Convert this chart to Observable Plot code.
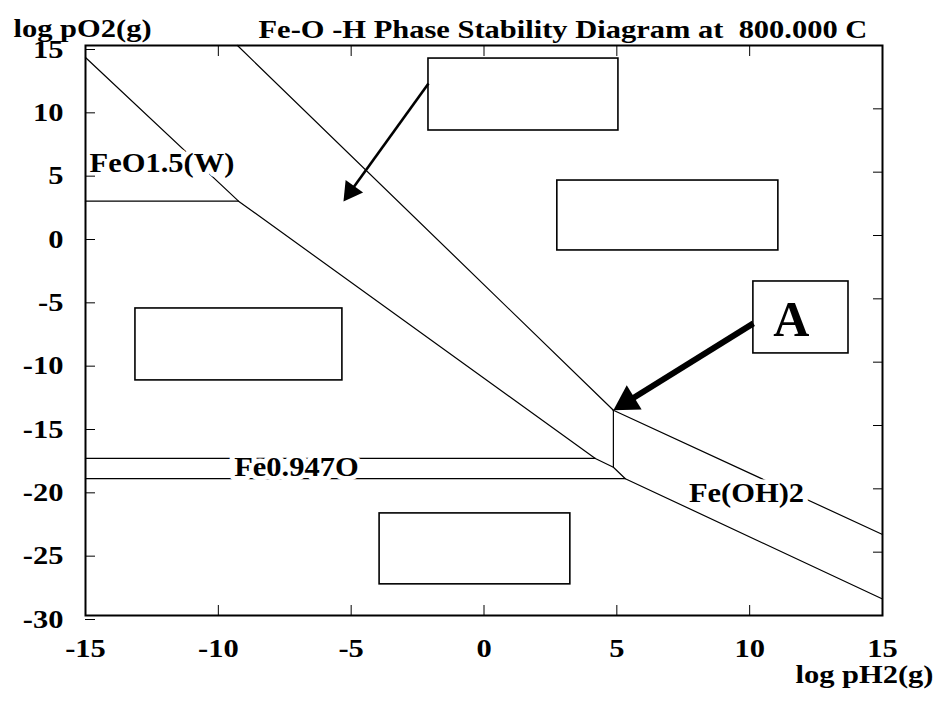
<!DOCTYPE html>
<html><head><meta charset="utf-8">
<script src="https://cdn.jsdelivr.net/npm/d3@7"></script>
<script src="https://cdn.jsdelivr.net/npm/@observablehq/plot@0.6"></script>
<style>html,body{margin:0;padding:0;background:#fff} #chart svg{display:block}</style>
</head><body><div id="chart"></div>
<script>
// ---- axes ----
const xDomain = [-15, 15];
const yDomain = [-30, 15];
const xTicks = [-15, -10, -5, 0, 5, 10, 15];
const yTicks = [15, 10, 5, 0, -5, -10, -15, -20, -25, -30];
const titleText = "Fe-O -H Phase Stability Diagram at \u00a0800.000 C";
const yAxisTitle = "log pO2(g)";
const xAxisTitle = "log pH2(g)";

// ---- phase boundaries [log pH2, log pO2] ----
const lineSteep = [[-9.28, 15], [4.87, -13.8]];
const lineFeOH2Upper = [[4.87, -13.8], [15, -23.6]];
const lineMain = [[-15, 14.05], [-9.24, 2.71], [4.19, -17.6], [4.87, -18.3], [5.32, -19.2], [15, -28.7]];
const lineVertical = [[4.87, -13.8], [4.87, -18.3]];
const lineW = [[-15, 2.71], [-9.24, 2.71]];
const lineWustiteUpper = [[-15, -17.6], [4.19, -17.6]];
const lineWustiteLower = [[-15, -19.2], [5.32, -19.2]];

// ---- phase labels ----
const phaseLabels = ["FeO1.5(W)", "Fe0.947O", "Fe(OH)2"];
const phaseLabelX = [-12.12, -7.06, 9.88];
const phaseLabelY = [5.73, -18.3, -20.36];

// ---- empty boxes ----
const boxX1 = [-2.09, 2.76, -13.12, -3.93];
const boxX2 = [5.06, 11.08, -5.33, 3.25];
const boxY1 = [13.97, 4.34, -5.76, -21.94];
const boxY2 = [8.29, -1.18, -11.44, -27.54];

// ---- box "A" ----
const boxAX = [10.14, 13.72];
const boxAY = [-3.63, -9.31];
const boxAText = "A";
const boxATextX = 11.57, boxATextY = -6.7;

// ---- arrows ----
const arrowX1 = [-2.09, 10.14];
const arrowY1 = [12.0, -6.94];
const arrowX2 = [-5.29, 4.87];
const arrowY2 = [2.69, -13.8];

const font = "'Liberation Serif', 'Times New Roman', serif";
const FS = 25;          // font size
const SX = 1.22;        // horizontal glyph stretch seen in the reference
const LFS = 27, LSX = 1.13; // phase labels
const common = {
  width: 936, height: 702,
  marginLeft: 85, marginRight: 54, marginTop: 45, marginBottom: 87,
  x: {domain: xDomain}, y: {domain: yDomain},
  style: {fontFamily: font, fontSize: FS + "px", fontWeight: "bold", background: "white", color: "black"}
};

// first pass: get scales to orient arrowheads in screen space
const base = Plot.plot({...common, marks: [Plot.frame()]});
const sx = base.scale("x"), sy = base.scale("y");
function head(i, r) {
  const px1 = sx.apply(arrowX1[i]), py1 = sy.apply(arrowY1[i]);
  const px2 = sx.apply(arrowX2[i]), py2 = sy.apply(arrowY2[i]);
  const dx = px2 - px1, dy = py2 - py1, len = Math.hypot(dx, dy);
  const off = 1.555 * r;
  const cx = px2 - dx / len * off, cy = py2 - dy / len * off;
  return {x1: arrowX1[i], y1: arrowY1[i], x: sx.invert(cx), y: sy.invert(cy), rotate: Math.atan2(dx, -dy) * 180 / Math.PI};
}
const head1 = head(0, 8), headA = head(1, 10.5);

const lineOpts = {x: d => d[0], y: d => d[1], stroke: "black", strokeWidth: 1.2};
const labels = phaseLabels.map((t, i) => ({t, x: phaseLabelX[i], y: phaseLabelY[i]}));
const boxes = boxX1.map((_, i) => ({x1: boxX1[i], x2: boxX2[i], y1: boxY1[i], y2: boxY2[i]}));
const fmt = d => String(d);

const svg = Plot.plot({
  ...common,
  marks: [
    Plot.line(lineSteep, lineOpts),
    Plot.line(lineFeOH2Upper, lineOpts),
    Plot.line(lineMain, lineOpts),
    Plot.line(lineVertical, lineOpts),
    Plot.line(lineW, lineOpts),
    Plot.line(lineWustiteUpper, lineOpts),
    Plot.line(lineWustiteLower, lineOpts),
    Plot.text(labels, {x: "x", y: "y", text: "t", fontSize: LFS, fontWeight: "bold", fill: "black", className: "lab",
      stroke: "white", strokeWidth: 9, paintOrder: "stroke", strokeLinejoin: "round"}),
    Plot.rect(boxes, {x1: "x1", x2: "x2", y1: "y1", y2: "y2", fill: "none", stroke: "black", strokeWidth: 1.6}),
    Plot.rect([0], {x1: boxAX[0], x2: boxAX[1], y1: boxAY[0], y2: boxAY[1], fill: "white", stroke: "black", strokeWidth: 1.6}),
    Plot.text([boxAText], {x: boxATextX, y: boxATextY, text: d => d, fontSize: 50, fontWeight: "bold", fill: "black", className: "noscale"}),
    Plot.link([head1], {x1: "x1", y1: "y1", x2: "x", y2: "y", stroke: "black", strokeWidth: 2.6}),
    Plot.dot([head1], {x: "x", y: "y", rotate: "rotate", symbol: "triangle", r: 8, fill: "black", stroke: "none"}),
    Plot.link([headA], {x1: "x1", y1: "y1", x2: "x", y2: "y", stroke: "black", strokeWidth: 6}),
    Plot.dot([headA], {x: "x", y: "y", rotate: "rotate", symbol: "triangle", r: 10.5, fill: "black", stroke: "none"}),
    Plot.frame({stroke: "black", strokeWidth: 2}),
    Plot.axisX({anchor: "bottom", ticks: xTicks, tickFormat: fmt, tickSize: -10, tickPadding: 34, label: null, fontSize: FS, fontWeight: "bold"}),
    Plot.axisX({anchor: "top", ticks: xTicks, tickSize: -10, tickFormat: () => "", label: null}),
    Plot.axisY({anchor: "left", ticks: yTicks, tickFormat: fmt, tickSize: -10, tickPadding: 32, dy: 4, label: null, fontSize: FS, fontWeight: "bold"}),
    Plot.axisY({anchor: "right", ticks: yTicks, tickSize: -10, tickFormat: () => "", label: null}),
    Plot.text([yAxisTitle], {frameAnchor: "top-left", textAnchor: "start", text: d => d, dx: -72, dy: -26, fontSize: FS, fontWeight: "bold"}),
    Plot.text([titleText], {frameAnchor: "top-left", textAnchor: "start", text: d => d, dx: 173, dy: -25, fontSize: FS, fontWeight: "bold"}),
    Plot.text([xAxisTitle], {frameAnchor: "bottom-right", textAnchor: "end", text: d => d, dx: 51, dy: 67, fontSize: FS, fontWeight: "bold"})
  ]
});
// widen glyphs horizontally as in the reference
svg.querySelectorAll("text").forEach(t => {
  if (t.closest(".noscale")) return;
  const k = t.closest(".lab") ? LSX : SX;
  const tr = t.getAttribute("transform") || "";
  t.setAttribute("transform", tr + ` scale(${k},1)`);
});
document.getElementById("chart").appendChild(svg);
</script>
</body></html>
